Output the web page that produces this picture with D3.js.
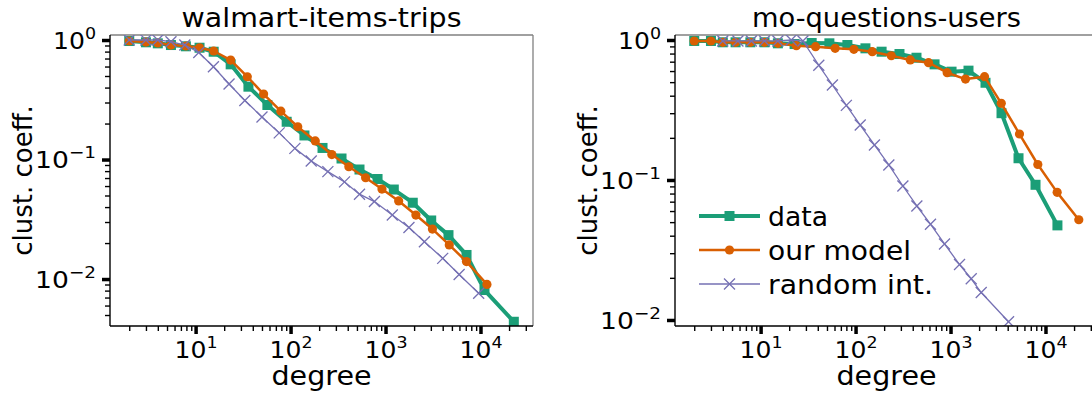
<!DOCTYPE html>
<html>
<head>
<meta charset="utf-8">
<script src="https://cdn.jsdelivr.net/npm/d3@7"></script>
<style>
  body { margin: 0; background: #fff; }
  svg { font-family: "DejaVu Sans", sans-serif; }
</style>
</head>
<body>
<svg id="chart" width="1092" height="396"></svg>
<script>
// series names (legend)
const seriesNames = ["data", "our model", "random int."];

// walmart-items-trips
const walmartDataDeg = [2, 3, 4, 5.5, 7.9, 11, 15.5, 23.4, 36, 57, 91, 140, 217, 344, 532, 824, 1222, 1936, 3027, 4603, 7129, 11020, 22440];
const walmartDataCC = [0.981, 0.957, 0.938, 0.908, 0.886, 0.862, 0.798, 0.626, 0.407, 0.286, 0.207, 0.159, 0.125, 0.102, 0.0825, 0.0687, 0.0561, 0.0435, 0.0309, 0.0233, 0.0159, 0.00809, 0.00439];
const walmartModelDeg = [2, 3, 4, 5.5, 7.9, 11, 15.5, 23.4, 35, 52, 79, 119, 182, 272, 411, 617, 917, 1376, 2088, 3119, 4690, 7112, 11700];
const walmartModelCC = [0.981, 0.962, 0.944, 0.908, 0.891, 0.862, 0.809, 0.680, 0.493, 0.353, 0.254, 0.188, 0.143, 0.110, 0.0870, 0.0704, 0.0566, 0.0450, 0.0343, 0.0262, 0.0193, 0.0140, 0.00902];
const walmartRandDeg = [2, 3, 4, 5.5, 7.7, 10.8, 15.4, 22.5, 33, 50, 76, 111, 165, 247, 370, 532, 764, 1178, 1765, 2567, 4000, 5960, 9570];
const walmartRandCC = [1.0, 1.0, 1.0, 0.968, 0.908, 0.786, 0.598, 0.429, 0.312, 0.227, 0.167, 0.124, 0.0973, 0.0792, 0.0650, 0.0513, 0.0445, 0.0343, 0.0270, 0.0205, 0.0149, 0.0109, 0.0076];

// mo-questions-users
const moDataDeg = [2, 3, 4, 5.45, 7.8, 11, 15.2, 22.8, 34.5, 53, 82, 127, 188, 290, 438, 679, 1025, 1546, 2335, 3443, 5200, 7852, 13360];
const moDataCC = [0.984, 0.984, 0.963, 0.963, 0.963, 0.963, 0.947, 0.936, 0.952, 0.947, 0.921, 0.872, 0.825, 0.794, 0.747, 0.670, 0.594, 0.604, 0.495, 0.300, 0.143, 0.0924, 0.0474];
const moModelDeg = [2, 3, 4, 5.45, 7.8, 11, 15.2, 23.8, 37.9, 61, 96, 150, 238, 377, 587, 922, 1438, 2281, 3423, 5324, 8300, 13270, 22430];
const moModelCC = [0.984, 0.984, 0.963, 0.963, 0.963, 0.963, 0.947, 0.911, 0.896, 0.872, 0.858, 0.825, 0.772, 0.720, 0.689, 0.584, 0.526, 0.547, 0.353, 0.213, 0.129, 0.0816, 0.0520];
const moRandDeg = [4, 5.77, 8, 11, 15.2, 21, 27.9, 41, 57, 80, 112, 158, 224, 315, 442, 615, 864, 1244, 1652, 2105, 4083];
const moRandCC = [0.985, 0.985, 0.985, 0.985, 0.985, 1.0, 0.985, 0.660, 0.477, 0.341, 0.247, 0.178, 0.128, 0.0906, 0.0652, 0.0483, 0.0349, 0.0249, 0.0197, 0.0157, 0.00972];

const xTicks = [10, 100, 1000, 10000];
const yTicks = [1, 0.1, 0.01];

const colors = ["#1b9e77", "#d95f02", "#7570b3"];

const svg = d3.select("#chart");
const plotTop = 35, plotBottom = 326;

const panels = [
  {
    title: "walmart-items-trips", titleLen: 280, left: 110, right: 533,
    yDomain: [Math.pow(10, -2.393), Math.pow(10, 0.042)],
    series: [[walmartDataDeg, walmartDataCC], [walmartModelDeg, walmartModelCC], [walmartRandDeg, walmartRandCC]],
    legend: false
  },
  {
    title: "mo-questions-users", titleLen: 269, left: 675, right: 1098,
    yDomain: [Math.pow(10, -2.043), Math.pow(10, 0.0357)],
    series: [[moDataDeg, moDataCC], [moModelDeg, moModelCC], [moRandDeg, moRandCC]],
    legend: true
  }
];

function minorTicks(domain) {
  const out = [];
  for (let e = -4; e <= 5; e++) {
    for (let m = 2; m <= 9; m++) {
      const v = m * Math.pow(10, e);
      if (v >= domain[0] && v <= domain[1]) out.push(v);
    }
  }
  return out;
}

function drawMarker(g, kind, cx, cy, color) {
  if (kind === 0) {
    g.append("rect").attr("x", cx - 5).attr("y", cy - 5).attr("width", 10).attr("height", 10).attr("fill", color);
  } else if (kind === 1) {
    g.append("circle").attr("cx", cx).attr("cy", cy).attr("r", 4.6).attr("fill", color);
  } else {
    g.append("path").attr("d", `M${cx - 5.5},${cy - 5.5}L${cx + 5.5},${cy + 5.5}M${cx - 5.5},${cy + 5.5}L${cx + 5.5},${cy - 5.5}`)
      .attr("stroke", color).attr("stroke-width", 1.3).attr("fill", "none");
  }
}

const lineWidths = [4, 2.5, 1.3];

// "10" with a superscript exponent, stretched to the width seen in the figure
function supLabel(sel, v) {
  const e = Math.round(Math.log10(v));
  const exp = e < 0 ? "\u2212" + (-e) : String(e);
  sel.text(null)
    .attr("font-size", 23).attr("fill", "#000")
    .attr("textLength", e < 0 ? 61 : 43).attr("lengthAdjust", "spacingAndGlyphs");
  sel.append("tspan").text("10");
  sel.append("tspan").attr("dy", -10).attr("font-size", 16).text(exp);
}

panels.forEach((p, pi) => {
  const x = d3.scaleLog().domain([Math.pow(10, 0.0985), Math.pow(10, 4.553)]).range([p.left, p.right]);
  const y = d3.scaleLog().domain(p.yDomain).range([plotBottom, plotTop]);
  const cx = (p.left + p.right) / 2;

  const g = svg.append("g");
  const clipId = "clip" + pi;
  g.append("clipPath").attr("id", clipId).append("rect")
    .attr("x", p.left).attr("y", plotTop).attr("width", p.right - p.left).attr("height", plotBottom - plotTop);

  // spines top/right gray
  g.append("line").attr("x1", p.left).attr("x2", p.right).attr("y1", plotTop).attr("y2", plotTop)
    .attr("stroke", "#808080").attr("stroke-width", 1.3);
  g.append("line").attr("x1", p.right).attr("x2", p.right).attr("y1", plotTop).attr("y2", plotBottom)
    .attr("stroke", "#808080").attr("stroke-width", 1.3);

  // series
  const plot = g.append("g").attr("clip-path", `url(#${clipId})`);
  p.series.forEach(([degs, ccs], si) => {
    const pts = degs.map((d, i) => [d, ccs[i]]);
    plot.append("path")
      .datum(pts)
      .attr("fill", "none")
      .attr("stroke", colors[si])
      .attr("stroke-width", lineWidths[si])
      .attr("stroke-linejoin", "round")
      .attr("d", d3.line().x(d => x(d[0])).y(d => y(d[1])));
    pts.forEach(d => drawMarker(plot, si, x(d[0]), y(d[1]), colors[si]));
  });

  // y axis: minor then major
  const yMinor = g.append("g").attr("transform", `translate(${p.left},0)`)
    .call(d3.axisLeft(y).tickValues(minorTicks(p.yDomain)).tickSize(5).tickFormat(""));
  yMinor.select(".domain").remove();
  yMinor.selectAll(".tick line").attr("stroke-width", 1.4);

  const yMajor = g.append("g").attr("transform", `translate(${p.left},0)`)
    .call(d3.axisLeft(y).tickValues(yTicks).tickSize(8).tickPadding(6));
  yMajor.select(".domain").remove();
  yMajor.selectAll(".tick line").attr("stroke-width", 3.5);
  yMajor.selectAll(".tick text")
    .attr("font-family", "DejaVu Sans").attr("dy", "0.36em")
    .each(function (d) { supLabel(d3.select(this), d); });

  // x axis
  const xMinor = g.append("g").attr("transform", `translate(0,${plotBottom})`)
    .call(d3.axisBottom(x).tickValues(minorTicks(x.domain())).tickSize(5).tickFormat(""));
  xMinor.select(".domain").remove();
  xMinor.selectAll(".tick line").attr("stroke-width", 1.4);

  const xMajor = g.append("g").attr("transform", `translate(0,${plotBottom})`)
    .call(d3.axisBottom(x).tickValues(xTicks).tickSize(8));
  xMajor.select(".domain").remove();
  xMajor.selectAll(".tick line").attr("stroke-width", 3.5);
  xMajor.selectAll(".tick text")
    .attr("font-family", "DejaVu Sans").attr("y", 32).attr("dy", 0)
    .each(function (d) { supLabel(d3.select(this), d); });

  // spines left/bottom black
  g.append("line").attr("x1", p.left).attr("x2", p.left).attr("y1", plotTop).attr("y2", plotBottom)
    .attr("stroke", "#000").attr("stroke-width", 1.4);
  g.append("line").attr("x1", p.left).attr("x2", p.right).attr("y1", plotBottom).attr("y2", plotBottom)
    .attr("stroke", "#000").attr("stroke-width", 1.4);

  // labels
  g.append("text").attr("x", cx).attr("y", 27).attr("text-anchor", "middle")
    .attr("font-size", 27).attr("textLength", p.titleLen).attr("lengthAdjust", "spacingAndGlyphs")
    .text(p.title);
  g.append("text").attr("x", cx).attr("y", 385).attr("text-anchor", "middle")
    .attr("font-size", 26).attr("textLength", 100).attr("lengthAdjust", "spacingAndGlyphs")
    .text("degree");
  g.append("text")
    .attr("transform", `translate(${p.left - 78},${(plotTop + plotBottom) / 2}) rotate(-90)`)
    .attr("text-anchor", "middle").attr("font-size", 26).text("clust. coeff.");

  if (p.legend) {
    const lg = g.append("g");
    const legendLens = [60, 143, 165];
    seriesNames.forEach((name, si) => {
      const ly = 216 + si * 34;
      lg.append("line").attr("x1", 699).attr("x2", 760).attr("y1", ly).attr("y2", ly)
        .attr("stroke", colors[si]).attr("stroke-width", lineWidths[si]);
      drawMarker(lg, si, 729.5, ly, colors[si]);
      lg.append("text").attr("x", 768).attr("y", ly).attr("dy", "0.37em")
        .attr("font-size", 26).attr("textLength", legendLens[si]).attr("lengthAdjust", "spacingAndGlyphs")
        .text(name);
    });
  }
});
</script>
</body>
</html>
